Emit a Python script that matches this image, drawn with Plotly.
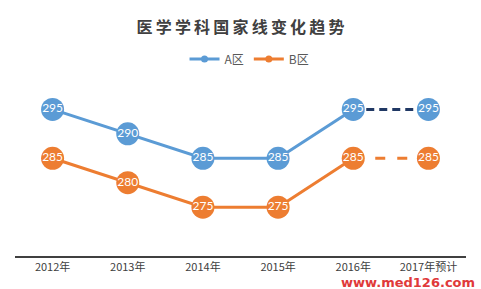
import plotly.graph_objects as go

categories = ["2012年", "2013年", "2014年", "2015年", "2016年", "2017年预计"]
series_a = [295, 290, 285, 285, 295, 295]
series_b = [285, 280, 275, 275, 285, 285]
title_text = "医学学科国家线变化趋势"

BLUE = "#5B9BD5"
NAVY = "#203864"
ORANGE = "#ED7D31"

fig = go.Figure()

# dashed forecast segments (drawn first so markers sit on top)
fig.add_trace(go.Scatter(x=categories[4:], y=series_a[4:], mode="lines",
                         line=dict(color=NAVY, width=3, dash="8px,5px"),
                         showlegend=False, hoverinfo="skip"))
fig.add_trace(go.Scatter(x=categories[4:], y=series_b[4:], mode="lines",
                         line=dict(color=ORANGE, width=3, dash="10px,12px"),
                         showlegend=False, hoverinfo="skip"))

# solid history lines with markers
for vals, col in [(series_a, BLUE), (series_b, ORANGE)]:
    fig.add_trace(go.Scatter(x=categories[:5], y=vals[:5], mode="lines+markers+text",
                             line=dict(color=col, width=3),
                             marker=dict(color=col, size=23, line=dict(color=col, width=0)),
                             text=[str(v) for v in vals[:5]], textposition="middle center",
                             textfont=dict(color="white", size=12, family="Lato"),
                             showlegend=False))
    fig.add_trace(go.Scatter(x=categories[5:], y=vals[5:], mode="markers+text",
                             marker=dict(color=col, size=23),
                             text=[str(v) for v in vals[5:]], textposition="middle center",
                             textfont=dict(color="white", size=12, family="Lato"),
                             showlegend=False))

# legend entries
for name, col in [("A区", BLUE), ("B区", ORANGE)]:
    fig.add_trace(go.Scatter(x=[None], y=[None], mode="lines+markers", name=name,
                             line=dict(color=col, width=3),
                             marker=dict(color=col, size=7)))

spaced_title = "\u2009".join(title_text)

fig.update_layout(
    width=481, height=289,
    margin=dict(l=15, r=15, t=85, b=33),
    paper_bgcolor="white", plot_bgcolor="white",
    title=dict(text=spaced_title, x=0.5, xanchor="center", y=1 - 27 / 289, yanchor="middle",
               font=dict(family="Noto Sans CJK SC", size=16, color="#404040", weight="bold")),
    legend=dict(orientation="h", x=0.52, xanchor="center", y=1 + (85 - 59) / 171, yanchor="middle",
                font=dict(family="Noto Sans CJK SC", size=12, color="#595959"),
                itemwidth=30, bgcolor="rgba(0,0,0,0)"),
    xaxis=dict(type="category", categoryorder="array", categoryarray=categories,
               range=[-0.5, 5.5], showgrid=False, zeroline=False,
               showline=True, linecolor="#404040", linewidth=2,
               ticks="", tickfont=dict(family="Noto Sans CJK SC", size=11, color="#404040"),
               fixedrange=True),
    yaxis=dict(range=[265, 300], visible=False, fixedrange=True),
    showlegend=True,
)

fig.add_annotation(text="<b>www.med126.com</b>", xref="paper", yref="paper",
                   x=1.025, xanchor="right", y=-(282 - 256) / 171, yanchor="middle",
                   showarrow=False, font=dict(family="DejaVu Sans", size=13, color="#E03A3A"))

fig.write_html("out.html")
